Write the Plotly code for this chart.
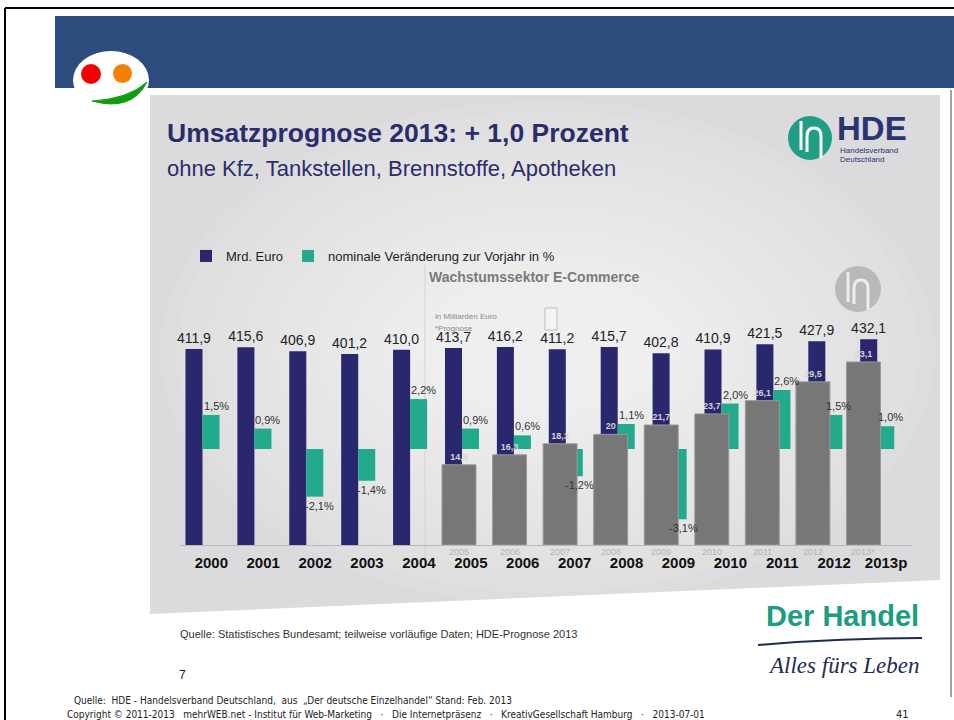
import plotly.graph_objects as go

# ---------------- data ----------------
years = [2000, 2001, 2002, 2003, 2004, 2005, 2006, 2007, 2008, 2009, 2010, 2011, 2012, 2013]
year_labels = ["2000", "2001", "2002", "2003", "2004", "2005", "2006", "2007",
               "2008", "2009", "2010", "2011", "2012", "2013p"]
umsatz_mrd = [411.9, 415.6, 406.9, 401.2, 410.0, 413.7, 416.2, 411.2,
              415.7, 402.8, 410.9, 421.5, 427.9, 432.1]
veraenderung_pct = [1.5, 0.9, -2.1, -1.4, 2.2, 0.9, 0.6, -1.2,
                    1.1, -3.1, 2.0, 2.6, 1.5, 1.0]
ec_years = [2005, 2006, 2007, 2008, 2009, 2010, 2011, 2012, 2013]
ec_labels = ["2005", "2006", "2007", "2008", "2009", "2010", "2011", "2012", "2013*"]
ecommerce_mrd = [14.5, 16.3, 18.3, 20.0, 21.7, 23.7, 26.1, 29.5, 33.1]

NAVY = "#29286f"
TEAL = "#22aa8c"
GREY = "#777777"
TITLE_NAVY = "#2b2d6b"
FONT = "Arial, Liberation Sans, sans-serif"
NARROW = "Liberation Sans Narrow, DejaVu Sans Condensed, Arial, sans-serif"

W, H = 954, 720


def px(x):
    return x / W


def py(y):
    return 1 - y / H


# ---------------- traces ----------------
bw = 0.328  # bar width in year units
fig = go.Figure()
fig.add_trace(go.Bar(
    x=years, y=umsatz_mrd, name="Mrd. Euro", width=bw, offset=-bw,
    marker=dict(color=NAVY, line=dict(width=0)),
    texttemplate="%{y:.1f}", textposition="outside", constraintext="none",
    textfont=dict(family=FONT, size=14, color="#222222"), cliponaxis=False,
    xaxis="x", yaxis="y"))
fig.add_trace(go.Bar(
    x=years, y=veraenderung_pct, name="nominale Veränderung zur Vorjahr in %",
    width=bw, offset=0,
    marker=dict(color=TEAL, line=dict(width=0)),
    xaxis="x", yaxis="y2"))
fig.add_trace(go.Bar(
    x=ec_years, y=ecommerce_mrd, name="E-Commerce", showlegend=False, width=0.672,
    marker=dict(color=GREY, line=dict(color="#9a9a9a", width=1)),
    text=[("%g" % v).replace(".", ",") for v in ecommerce_mrd],
    textposition="outside", constraintext="none",
    textfont=dict(family=FONT, size=9, color="#d4d4d4", weight="bold"), cliponaxis=False,
    xaxis="x2", yaxis="y3"))

# ---------------- decoration shapes ----------------
shapes = []
# grey gradient panel
panel = "M {},{} L {},{} L {},{} L {},{} Z".format(px(150), py(95), px(940), py(95),
                                                    px(940), py(580), px(150), py(614))
shapes.append(dict(type="path", path=panel, xref="paper", yref="paper",
                   fillcolor="#dbdbde", line=dict(width=0), layer="below"))
for i in range(18):
    x0 = 160 + i * 16
    x1 = 935 - i * 16
    y0 = 100 + i * 11
    y1 = 605 - i * 12
    shapes.append(dict(type="circle", xref="paper", yref="paper",
                       x0=px(x0), x1=px(x1), y0=py(y1), y1=py(y0),
                       fillcolor="white", opacity=0.06, line=dict(width=0), layer="below"))
# blue header band
shapes.append(dict(type="rect", xref="paper", yref="paper", x0=px(55), x1=1,
                   y0=py(88), y1=py(16), fillcolor="#2c4c7e", line=dict(width=0), layer="below"))
# frame lines
shapes.append(dict(type="line", xref="paper", yref="paper", x0=px(5), x1=1, y0=py(8), y1=py(8),
                   line=dict(color="#000000", width=2), layer="below"))
shapes.append(dict(type="line", xref="paper", yref="paper", x0=px(5), x1=px(5), y0=0, y1=py(8),
                   line=dict(color="#000000", width=2), layer="below"))
shapes.append(dict(type="line", xref="paper", yref="paper", x0=px(951), x1=px(951),
                   y0=py(697), y1=py(90), line=dict(color="#444444", width=1), layer="below"))
# smiley logo
shapes.append(dict(type="circle", xref="paper", yref="paper", x0=px(73), x1=px(149),
                   y0=py(109), y1=py(51), fillcolor="white", line=dict(width=0), layer="below"))
shapes.append(dict(type="circle", xref="paper", yref="paper", x0=px(81), x1=px(101),
                   y0=py(84), y1=py(64), fillcolor="#f20000", line=dict(width=0), layer="below"))
shapes.append(dict(type="circle", xref="paper", yref="paper", x0=px(113), x1=px(132),
                   y0=py(83), y1=py(64), fillcolor="#f57f00", line=dict(width=0), layer="below"))
smile = "M {},{} Q {},{} {},{} Q {},{} {},{} Z".format(
    px(92), py(101), px(132), py(112), px(147), py(82),
    px(128), py(99), px(92), py(101))
shapes.append(dict(type="path", path=smile, xref="paper", yref="paper",
                   fillcolor="#129c12", line=dict(color="#129c12", width=1), layer="below"))
# HDE logo (colour)
shapes.append(dict(type="circle", xref="paper", yref="paper", x0=px(788), x1=px(832),
                   y0=py(160), y1=py(116), fillcolor="#1f9e84", line=dict(width=0), layer="below"))
h_path = "M {},{} L {},{} M {},{} L {},{} Q {},{} {},{} Q {},{} {},{} L {},{}".format(
    px(801), py(121), px(801), py(150),
    px(807), py(152), px(807), py(136), px(807), py(128), px(814), py(128),
    px(821), py(128), px(821), py(136), px(821), py(158))
shapes.append(dict(type="path", path=h_path, xref="paper", yref="paper",
                   line=dict(color="white", width=3), layer="below"))
# HDE logo (grey, inset chart)
shapes.append(dict(type="circle", xref="paper", yref="paper", x0=px(835), x1=px(881),
                   y0=py(312), y1=py(266), fillcolor="#b9b9b9", line=dict(width=0), layer="below"))
h_path2 = "M {},{} L {},{} M {},{} L {},{} Q {},{} {},{} Q {},{} {},{} L {},{}".format(
    px(848), py(272), px(848), py(302),
    px(854), py(304), px(854), py(288), px(854), py(280), px(861), py(280),
    px(868), py(280), px(868), py(288), px(868), py(310))
shapes.append(dict(type="path", path=h_path2, xref="paper", yref="paper",
                   line=dict(color="#eeeeee", width=3), layer="below"))
# inset chart left edge + small icon
shapes.append(dict(type="line", xref="paper", yref="paper", x0=px(425), x1=px(425),
                   y0=py(560), y1=py(265), line=dict(color="#d2d2d2", width=1), layer="below"))
shapes.append(dict(type="rect", xref="paper", yref="paper", x0=px(545), x1=px(557),
                   y0=py(330), y1=py(308), fillcolor="#f4f4f4",
                   line=dict(color="#bdbdbd", width=1), layer="below"))
# Der Handel underline
dh_line = "M {},{} Q {},{} {},{}".format(px(758), py(645), px(840), py(638), px(922), py(638))
shapes.append(dict(type="path", path=dh_line, xref="paper", yref="paper",
                   line=dict(color="#1f2a55", width=2), layer="below"))

# ---------------- annotations ----------------
ann = []


def text(x, y, s, size, color, xanchor="left", weight="normal", family=FONT, style="normal"):
    ann.append(dict(x=px(x), y=py(y), xref="paper", yref="paper", text=s, showarrow=False,
                    xanchor=xanchor, yanchor="middle",
                    font=dict(family=family, size=size, color=color, weight=weight, style=style)))


# percentage labels of the teal bars (placed via the y2 axis)
for yr, v in zip(years, veraenderung_pct):
    ann.append(dict(x=yr + bw / 2, y=v, xref="x", yref="y2",
                    text=("%.1f%%" % v).replace(".", ","), showarrow=False,
                    xanchor="center", yanchor="bottom" if v >= 0 else "top",
                    xshift=5, yshift=1 if v >= 0 else -1,
                    font=dict(family=FONT, size=11, color="#333333")))

text(165, 133, "Umsatzprognose 2013: + 1,0 Prozent", 26.5, TITLE_NAVY, weight="bold")
text(165, 168, "ohne Kfz, Tankstellen, Brennstoffe, Apotheken", 22, TITLE_NAVY)
text(835, 128, "HDE", 33, "#2a3470", weight="bold")
text(838, 150, "Handelsverband", 8, "#2a3470")
text(838, 159, "Deutschland", 8, "#2a3470")
text(427, 277, "Wachstumssektor E-Commerce", 14, "#7a7a7a", weight="bold")
text(433, 316, "in Milliarden Euro", 8, "#8a8a8a")
text(433, 329, "*Prognose", 8, "#8a8a8a")
for yr, lab in zip(ec_years, ec_labels):
    ann.append(dict(x=yr, y=py(552), xref="x2", yref="paper", text=lab, showarrow=False,
                    xanchor="center", yanchor="middle",
                    font=dict(family=FONT, size=9, color="#b4b4b4")))
text(178, 634, "Quelle: Statistisches Bundesamt; teilweise vorläufige Daten; HDE-Prognose 2013",
     11, "#333333")
text(177, 675, "7", 12, "#222222")
text(764, 616, "Der Handel", 29, "#1c9c80", weight="bold")
text(766, 665, "Alles fürs Leben", 23, "#1f2a55", family="Liberation Serif, serif", style="italic")
text(72, 700, "Quelle:  HDE - Handelsverband Deutschland,  aus  „Der deutsche Einzelhandel“ Stand: Feb. 2013",
     10, "#222222", family=NARROW)
text(65, 714, "Copyright © 2011-2013   mehrWEB.net - Institut für Web-Marketing   ·   Die Internetpräsenz"
     "   ·   KreativGesellschaft Hamburg   ·   2013-07-01", 10, "#222222", family=NARROW)
text(902, 714, "41", 11, "#222222", xanchor="center", family=NARROW)

# ---------------- layout ----------------
fig.update_layout(
    width=W, height=H, autosize=False,
    margin=dict(l=0, r=0, t=0, b=0),
    paper_bgcolor="white", plot_bgcolor="rgba(0,0,0,0)",
    barmode="overlay", separators=",.",
    font=dict(family=FONT, color="#222222"),
    showlegend=True,
    legend=dict(orientation="h", x=px(186), y=py(256), xanchor="left", yanchor="middle",
                bgcolor="rgba(0,0,0,0)", font=dict(family=FONT, size=13, color="#222222"),
                itemwidth=30, traceorder="normal"),
    xaxis=dict(domain=[px(180), px(912)], range=[1999.5665, 2013.670],
               tickvals=[y + 0.17 for y in years], ticktext=year_labels,
               tickfont=dict(family=FONT, size=15, color="#111111", weight="bold"),
               showline=True, linecolor="#b8b8b8", linewidth=1, ticks="",
               showgrid=False, zeroline=False, anchor="y", ticklabelstandoff=4),
    yaxis=dict(domain=[py(545), py(265)], range=[0, 588.2], visible=False,
               showgrid=False, zeroline=False),
    yaxis2=dict(overlaying="y", range=[-4.229, 8.106], visible=False,
                showgrid=False, zeroline=False),
    xaxis2=dict(overlaying="x", range=[1999.482, 2013.960], visible=False,
                showgrid=False, zeroline=False, anchor="y3"),
    yaxis3=dict(overlaying="y", range=[0, 50.63], visible=False,
                showgrid=False, zeroline=False, anchor="x2"),
    shapes=shapes, annotations=ann,
)

fig.write_html("out.html", config={"displayModeBar": False},
               post_script="document.body.style.margin='0';document.body.style.overflow='hidden';")
